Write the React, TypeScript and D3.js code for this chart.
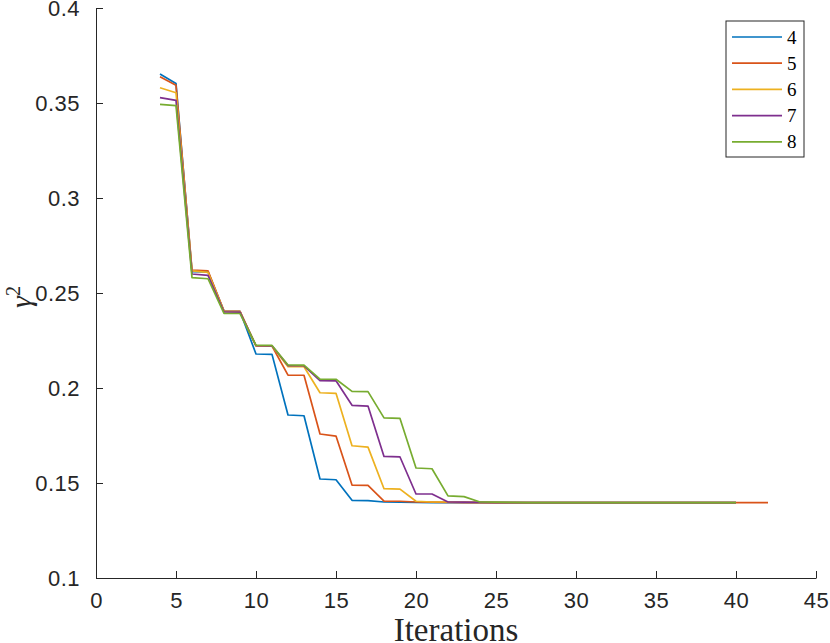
import React, { useEffect, useRef } from 'react';
import * as d3 from 'd3';

// Iterations start at 4 for every series
const startIter = 4;
const seriesNames = ['4', '5', '6', '7', '8'];
const seriesColors = ['#0072BD', '#D95319', '#EDB120', '#7E2F8E', '#77AC30'];

const blue4 = [
  0.3653, 0.3603, 0.2613, 0.2611, 0.2405, 0.2404, 0.2179, 0.2177, 0.1858, 0.1854,
  0.1521, 0.1517, 0.1409, 0.1407, 0.1400, 0.1399, 0.1398, 0.1397, 0.1397, 0.1397,
  0.1397, 0.1397, 0.1397, 0.1397, 0.1397, 0.1397, 0.1397, 0.1397, 0.1397, 0.1397,
  0.1397, 0.1397, 0.1397, 0.1397, 0.1397, 0.1397, 0.1397,
];
const orange5 = [
  0.3638, 0.3593, 0.2621, 0.2617, 0.2405, 0.2404, 0.2221, 0.2221, 0.2068, 0.2067,
  0.1758, 0.1747, 0.1489, 0.1487, 0.1405, 0.1404, 0.1400, 0.1399, 0.1398, 0.1397,
  0.1397, 0.1397, 0.1397, 0.1397, 0.1397, 0.1397, 0.1397, 0.1397, 0.1397, 0.1397,
  0.1397, 0.1397, 0.1397, 0.1397, 0.1397, 0.1397, 0.1397, 0.1397, 0.1397,
];
const yellow6 = [
  0.3580, 0.3554, 0.2616, 0.2609, 0.2403, 0.2402, 0.2222, 0.2221, 0.2112, 0.2112,
  0.1975, 0.1972, 0.1696, 0.1689, 0.1470, 0.1468, 0.1404, 0.1400, 0.1400, 0.1399,
  0.1398, 0.1397, 0.1397, 0.1397, 0.1397, 0.1397, 0.1397, 0.1397, 0.1397, 0.1397,
  0.1397, 0.1397, 0.1397, 0.1397, 0.1397, 0.1397, 0.1397,
];
const purple7 = [
  0.3528, 0.3514, 0.2600, 0.2593, 0.2400, 0.2399, 0.2223, 0.2222, 0.2118, 0.2117,
  0.2039, 0.2038, 0.1909, 0.1905, 0.1640, 0.1637, 0.1442, 0.1442, 0.1400, 0.1399,
  0.1398, 0.1397, 0.1397, 0.1397, 0.1397, 0.1397, 0.1397, 0.1397, 0.1397, 0.1397,
  0.1397, 0.1397, 0.1397, 0.1397, 0.1397, 0.1397, 0.1397,
];
const green8 = [
  0.3493, 0.3486, 0.2581, 0.2575, 0.2393, 0.2392, 0.2225, 0.2224, 0.2121, 0.2120,
  0.2047, 0.2046, 0.1982, 0.1981, 0.1843, 0.1840, 0.1579, 0.1575, 0.1432, 0.1428,
  0.1400, 0.1399, 0.1398, 0.1397, 0.1397, 0.1397, 0.1397, 0.1397, 0.1397, 0.1397,
  0.1397, 0.1397, 0.1397, 0.1397, 0.1397, 0.1397, 0.1397,
];
const allSeries = [blue4, orange5, yellow6, purple7, green8];

const xTicks = [0, 5, 10, 15, 20, 25, 30, 35, 40, 45];
const yTicks = [0.1, 0.15, 0.2, 0.25, 0.3, 0.35, 0.4];

const App: React.FC = () => {
  const svgRef = useRef<SVGSVGElement>(null);

  useEffect(() => {
    if (!svgRef.current) return;
    const width = 830;
    const height = 643;
    const margin = { top: 8, right: 14, bottom: 65, left: 96 };
    const axisColor = '#262626';

    const svg = d3.select(svgRef.current);
    svg.selectAll('*').remove();

    const x = d3.scaleLinear().domain([0, 45]).range([margin.left, width - margin.right]);
    const y = d3.scaleLinear().domain([0.1, 0.4]).range([height - margin.bottom, margin.top]);

    // Lines
    const line = d3.line<number>()
      .x((_, i) => x(startIter + i))
      .y(d => y(d));

    allSeries.forEach((s, k) => {
      svg.append('path')
        .datum(s)
        .attr('fill', 'none')
        .attr('stroke', seriesColors[k])
        .attr('stroke-width', 1.7)
        .attr('stroke-linejoin', 'round')
        .attr('d', line);
    });

    // Axes (MATLAB look: inward ticks, no box)
    const xAxis = d3.axisBottom(x).tickValues(xTicks).tickSizeInner(-7).tickSizeOuter(0).tickPadding(14)
      .tickFormat(d3.format('d') as any);
    const gx = svg.append('g').attr('transform', `translate(0,${y(0.1)})`).call(xAxis);
    const yAxis = d3.axisLeft(y).tickValues(yTicks).tickSizeInner(-7).tickSizeOuter(0).tickPadding(16)
      .tickFormat(d => String(+(+d).toFixed(2)));
    const gy = svg.append('g').attr('transform', `translate(${x(0)},0)`).call(yAxis);

    [gx, gy].forEach(g => {
      g.select('.domain').attr('stroke', axisColor).attr('stroke-width', 1);
      g.selectAll('.tick line').attr('stroke', axisColor).attr('stroke-width', 1);
      g.selectAll('.tick text')
        .attr('fill', axisColor)
        .style('font-family', '"Liberation Sans", Arial, sans-serif')
        .style('font-size', '22px')
        .style('letter-spacing', '0.5px');
    });

    // Axis labels
    svg.append('text')
      .attr('x', (x(0) + x(45)) / 2)
      .attr('y', 641)
      .attr('text-anchor', 'middle')
      .style('font-family', '"Liberation Serif", "Times New Roman", serif')
      .style('font-size', '33px')
      .attr('fill', axisColor)
      .text('Iterations');

    const yl = svg.append('text')
      .attr('transform', `translate(31,${(y(0.1) + y(0.4)) / 2 + 4}) rotate(-90)`)
      .attr('text-anchor', 'middle')
      .style('font-family', '"Liberation Serif", "Times New Roman", serif')
      .style('font-size', '30px')
      .attr('fill', axisColor);
    yl.append('tspan').style('font-style', 'italic').text('γ');
    yl.append('tspan').attr('dy', -11).style('font-size', '20px').text('2');

    // Legend
    const lg = svg.append('g').attr('transform', 'translate(726,21)');
    lg.append('rect')
      .attr('width', 78).attr('height', 136)
      .attr('fill', 'white').attr('stroke', axisColor).attr('stroke-width', 1);
    seriesNames.forEach((name, k) => {
      const ry = 16 + k * 26.2;
      lg.append('line')
        .attr('x1', 6).attr('x2', 56).attr('y1', ry).attr('y2', ry)
        .attr('stroke', seriesColors[k]).attr('stroke-width', 1.7);
      lg.append('text')
        .attr('x', 61).attr('y', ry + 6.5)
        .style('font-family', '"Liberation Serif", "Times New Roman", serif')
        .style('font-size', '19px')
        .attr('fill', '#000')
        .text(name);
    });
  }, []);

  return (
    <div style={{ position: 'fixed', left: 0, top: 0, background: 'white' }}>
      <svg ref={svgRef} width={830} height={643} style={{ display: 'block' }}></svg>
    </div>
  );
};

export default App;
